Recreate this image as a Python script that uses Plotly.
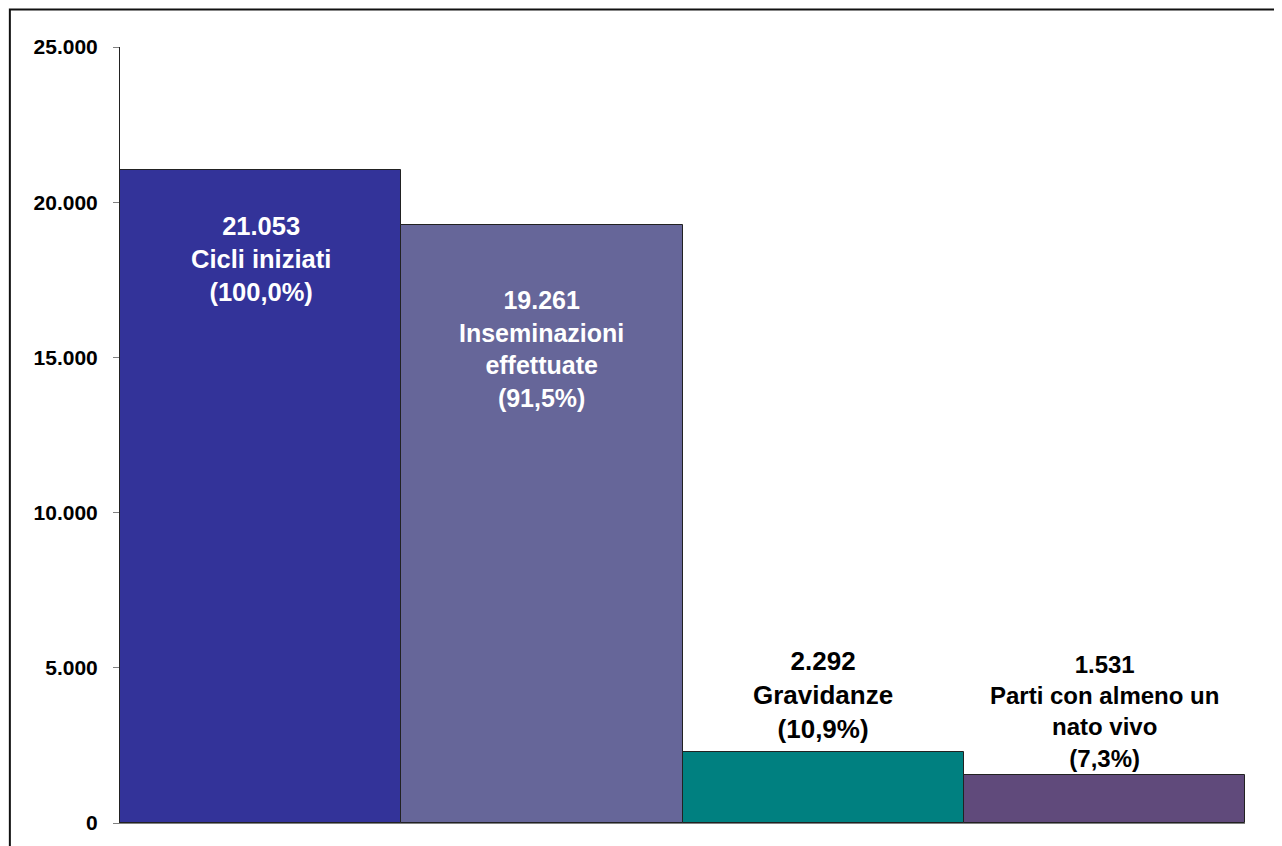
import plotly.graph_objects as go

categories = ["Cicli iniziati", "Inseminazioni effettuate", "Gravidanze", "Parti con almeno un nato vivo"]
values = [21053, 19261, 2292, 1531]
label_texts = [
    "21.053<br>Cicli iniziati<br>(100,0%)",
    "19.261<br>Inseminazioni<br>effettuate<br>(91,5%)",
    "2.292<br>Gravidanze<br>(10,9%)",
    "1.531<br>Parti con almeno un<br>nato vivo<br>(7,3%)",
]
tick_vals = [0, 5000, 10000, 15000, 20000, 25000]
tick_text = ["0", "5.000", "10.000", "15.000", "20.000", "25.000"]

bar_colors = ["#333399", "#666699", "#008080", "#604A7B"]
label_colors = ["white", "white", "black", "black"]
label_sizes = [25.5, 25, 26, 24]
label_anchor = ["top", "top", "bottom", "bottom"]
label_shift = [-40, -59, 6, 1]

FONT = "Liberation Sans, Arial, sans-serif"

fig = go.Figure()
fig.add_trace(go.Bar(
    x=categories, y=values,
    marker=dict(color=bar_colors, line=dict(color="#222222", width=1)),
    hoverinfo="skip",
))

for c, v, t, col, s, a, sh in zip(categories, values, label_texts, label_colors,
                                   label_sizes, label_anchor, label_shift):
    fig.add_annotation(
        x=c, y=v, text="<b>" + t + "</b>", showarrow=False,
        xanchor="center", yanchor=a, yshift=sh,
        font=dict(family=FONT, size=s, color=col),
        align="center",
    )

# outer frame
fig.add_shape(type="rect", xref="paper", yref="paper",
              x0=-0.0979, y0=-0.08, x1=1.1, y1=1.0482,
              line=dict(color="#111111", width=2), layer="above")

fig.update_layout(
    width=1274, height=838, autosize=False,
    margin=dict(l=112, r=37, t=39, b=21),
    plot_bgcolor="white", paper_bgcolor="white",
    bargap=0, showlegend=False,
    font=dict(family=FONT, color="black"),
)
fig.update_xaxes(showticklabels=False, showline=True, linecolor="#808080",
                 linewidth=1, ticks="", showgrid=False, zeroline=False)
fig.update_yaxes(range=[0, 25000], tickvals=tick_vals, ticktext=tick_text,
                 ticks="outside", ticklen=6, tickcolor="#808080", tickwidth=1,
                 showline=True, linecolor="#222222", linewidth=1,
                 showgrid=False, zeroline=False, ticklabelstandoff=11,
                 tickfont=dict(size=21, family=FONT, color="black", weight="bold"))

fig.write_html("out.html")
